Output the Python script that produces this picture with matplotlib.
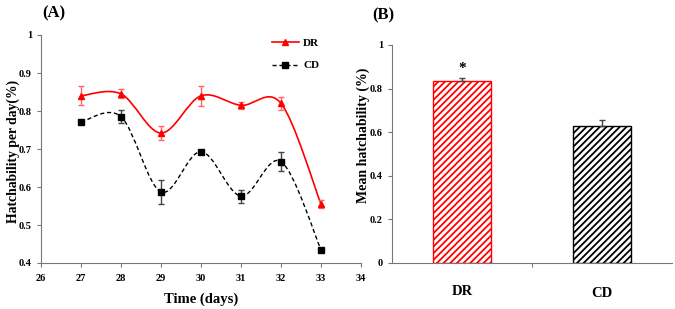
import numpy as np
import matplotlib
matplotlib.use("Agg")
import matplotlib.pyplot as plt
from matplotlib.path import Path
from matplotlib.patches import PathPatch

plt.rcParams['font.family'] = ['Liberation Serif', 'DejaVu Serif']
plt.rcParams['font.weight'] = 'bold'
plt.rcParams['axes.labelweight'] = 'bold'
plt.rcParams['hatch.linewidth'] = 1.3

# Data
days = [27, 28, 29, 30, 31, 32, 33]
dr_mean = [0.840, 0.845, 0.742, 0.840, 0.815, 0.820, 0.555]
dr_err = [0.025, 0.012, 0.018, 0.027, 0.010, 0.017, 0.010]
cd_mean = [0.771, 0.785, 0.587, 0.693, 0.576, 0.667, 0.435]
cd_err = [0.005, 0.017, 0.032, 0.003, 0.017, 0.025, 0.003]

groups = ['DR', 'CD']
group_mean = [0.835, 0.628]
group_err = [0.015, 0.027]


def smooth_path(x, y):
    # Excel-like smoothed line: cubic Bezier through points (Catmull-Rom)
    x = np.asarray(x, float)
    y = np.asarray(y, float)
    verts = [(x[0], y[0])]
    codes = [Path.MOVETO]
    n = len(x)
    for i in range(n - 1):
        x0, y0 = (x[i - 1], y[i - 1]) if i > 0 else (x[i], y[i])
        x3, y3 = (x[i + 2], y[i + 2]) if i + 2 < n else (x[i + 1], y[i + 1])
        c1 = (x[i] + (x[i + 1] - x0) / 6, y[i] + (y[i + 1] - y0) / 6)
        c2 = (x[i + 1] - (x3 - x[i]) / 6, y[i + 1] - (y3 - y[i]) / 6)
        verts += [c1, c2, (x[i + 1], y[i + 1])]
        codes += [Path.CURVE4] * 3
    return Path(verts, codes)


fig = plt.figure(figsize=(6.75, 3.09), dpi=100)

# ---- Panel A ----
ax1 = fig.add_axes([41 / 675, 1 - 263 / 309, 320 / 675, 228 / 309])
ax1.add_patch(PathPatch(smooth_path(days, dr_mean), facecolor='none',
                        edgecolor='#ff0000', lw=1.2))
ax1.add_patch(PathPatch(smooth_path(days, cd_mean), facecolor='none',
                        edgecolor='black', lw=1.0, ls=(0, (3, 2))))
ax1.errorbar(days, dr_mean, yerr=dr_err, fmt='^', color='#ff0000', ms=5,
             ecolor='#ff6666', elinewidth=1, capsize=2.5, capthick=1)
ax1.errorbar(days, cd_mean, yerr=cd_err, fmt='s', color='black', ms=5,
             ecolor='#444444', elinewidth=1, capsize=2.5, capthick=1)
h1, = ax1.plot([], [], '-^', color='#ff0000', ms=5, lw=1.2)
h2, = ax1.plot([], [], '--s', color='black', ms=5, lw=1.0, dashes=(3, 2))
ax1.legend([h1, h2], ['DR', 'CD'], loc='upper right', frameon=False,
           fontsize=8, handlelength=2.4, handletextpad=0.4, labelspacing=1.15,
           bbox_to_anchor=(0.9, 1.03))
ax1.set_xlim(26, 34)
ax1.set_ylim(0.4, 1.0)
ax1.set_xticks(range(26, 35))
ax1.set_yticks([0.4, 0.5, 0.6, 0.7, 0.8, 0.9, 1.0])
ax1.set_yticklabels(['0.4', '0.5', '0.6', '0.7', '0.8', '0.9', '1'])
ax1.tick_params(labelsize=7.5, length=3, width=0.8, color='#777777')
ax1.tick_params(axis='x', pad=5)
for s in ['top', 'right']:
    ax1.spines[s].set_visible(False)
for s in ['left', 'bottom']:
    ax1.spines[s].set_color('#777777')
ax1.set_xlabel('Time (days)', fontsize=10.5, labelpad=7)
ax1.set_ylabel('Hatchability per day(%)', fontsize=9.8)
ax1.yaxis.set_label_coords(-0.066, 0.49)
fig.text(42 / 675, 1 - 13 / 309, '(A)', fontsize=12, va='center')

# ---- Panel B ----
ax2 = fig.add_axes([392 / 675, 1 - 263 / 309, 280 / 675, 218 / 309])
xpos = [0.5, 1.5]
ax2.bar(xpos, group_mean, width=0.41, color='white',
        edgecolor=['#ff0000', 'black'], hatch='/////', lw=1.0)
ax2.errorbar(xpos, group_mean, yerr=[[0, 0], group_err], fmt='none',
             ecolor='#444444', elinewidth=1, capsize=2.5, capthick=1)
ax2.text(xpos[0], group_mean[0] + group_err[0] + 0.04, '*', ha='center',
         va='center', fontsize=11)
ax2.set_xlim(0, 2)
ax2.set_ylim(0, 1.0)
ax2.set_xticks([1])
ax2.set_xticklabels([''])
ax2.set_yticks([0, 0.2, 0.4, 0.6, 0.8, 1.0])
ax2.set_yticklabels(['0', '0.2', '0.4', '0.6', '0.8', '1'])
ax2.tick_params(labelsize=7.5, length=3, width=0.8, color='#777777')
for i, g in enumerate(groups):
    ax2.text(xpos[i], -0.13 - 0.01 * i, g, ha='center', va='center',
             fontsize=10.5, transform=ax2.get_xaxis_transform())
for s in ['top', 'right']:
    ax2.spines[s].set_visible(False)
for s in ['left', 'bottom']:
    ax2.spines[s].set_color('#777777')
ax2.set_ylabel('Mean hatchability (%)', fontsize=10)
ax2.yaxis.set_label_coords(-0.08, 0.587)
fig.text(372 / 675, 1 - 15 / 309, '(B)', fontsize=12, va='center')

fig.savefig('out.png', dpi=100)
